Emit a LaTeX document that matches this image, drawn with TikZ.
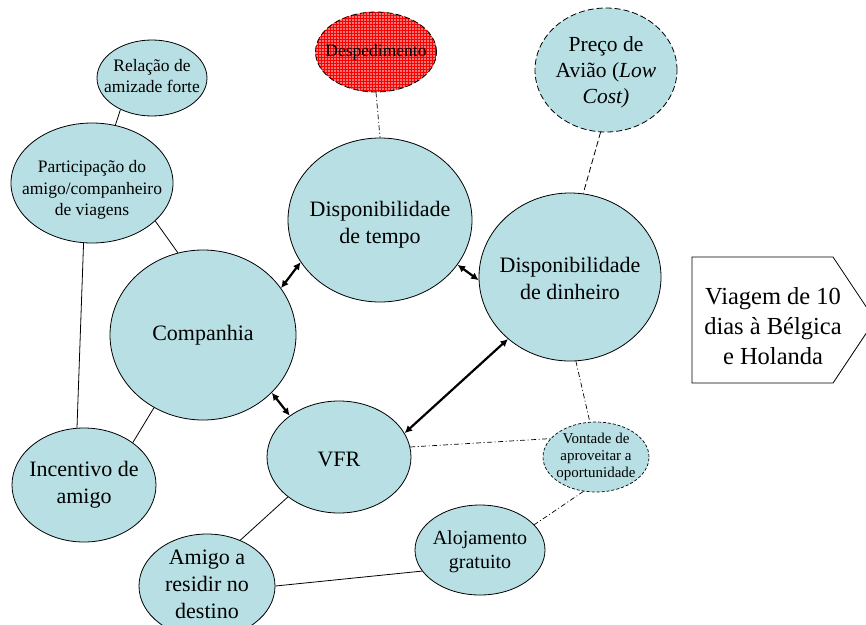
\documentclass[tikz,border=0pt]{standalone}
\usepackage{fontspec}
\setmainfont{Liberation Serif}
\usetikzlibrary{shapes.geometric,arrows.meta,patterns}
\definecolor{azulclaro}{RGB}{184,224,228}
\definecolor{vermelho}{RGB}{242,120,120}
\tikzset{
  bolha/.style={ellipse, draw, fill=azulclaro, inner sep=0pt, line width=0.8pt},
  grande/.style={font=\fontsize{22}{27}\selectfont, align=center},
  pequeno/.style={font=\fontsize{17.5}{21.5}\selectfont, align=center},
  liga/.style={line width=0.8pt},
  seta/.style={line width=2.2pt, {Latex[length=7.5pt,width=7.5pt]}-{Latex[length=7.5pt,width=7.5pt]}},
  pontotraco/.style={line width=0.7pt, dash pattern=on 5pt off 2.5pt on 1pt off 2.5pt},
  tracejado/.style={line width=0.8pt, dash pattern=on 6pt off 3pt}
}
\begin{document}
\begin{tikzpicture}[x=1pt, y=-1pt]
    \useasboundingbox (0,0) rectangle (866,624);

    % bolhas
    \node[bolha, minimum width=110pt, minimum height=76pt,
          label={[pequeno, yshift=2pt]center:{Relação de\\amizade forte}}] (relacao) at (152,78) {};
    \node[bolha, minimum width=162pt, minimum height=120pt,
          label={[pequeno, yshift=-7pt]center:{Participação do\\amigo/companheiro\\de viagens}}] (participacao) at (92,183) {};
    \node[bolha, tracejado, preaction={fill=vermelho}, pattern=grid, pattern color=red,
          minimum width=121pt, minimum height=80pt,
          label={[pequeno]center:{Despedimento}}] (despedimento) at (376,52) {};
    \node[bolha, minimum width=184pt, minimum height=164pt,
          label={[grande, yshift=-5pt]center:{Disponibilidade\\de tempo}}] (tempo) at (380,220) {};
    \node[bolha, tracejado, minimum width=142pt, minimum height=124pt,
          label={[font=\fontsize{21.5}{26}\selectfont, align=center, yshift=-2pt]center:{Preço de\\Avião (\textit{Low}\\\textit{Cost)}}}] (preco) at (606,70) {};
    \node[bolha, minimum width=182pt, minimum height=168pt,
          label={[grande, yshift=-1pt]center:{Disponibilidade\\de dinheiro}}] (dinheiro) at (570,277) {};
    \node[bolha, minimum width=186pt, minimum height=170pt,
          label={[grande]center:{Companhia}}] (companhia) at (203,335) {};
    \node[bolha, minimum width=144pt, minimum height=112pt,
          label={[grande, yshift=-2pt]center:{VFR}}] (vfr) at (339,457) {};
    \node[bolha, line width=0.7pt, dash pattern=on 3pt off 2pt, minimum width=106pt, minimum height=70pt,
          label={[font=\fontsize{15}{17}\selectfont, align=center]center:{Vontade de\\aproveitar a\\oportunidade}}] (vontade) at (596,457) {};
    \node[bolha, minimum width=130pt, minimum height=90pt,
          label={[font=\fontsize{20}{24}\selectfont, align=center, yshift=-2pt]center:{Alojamento\\gratuito}}] (alojamento) at (480,550) {};
    \node[bolha, minimum width=136pt, minimum height=104pt,
          label={[grande, yshift=2pt]center:{Amigo a\\residir no\\destino}}] (amigo) at (207,586) {};
    \node[bolha, minimum width=144pt, minimum height=114pt,
          label={[grande]center:{Incentivo de\\amigo}}] (incentivo) at (84,485) {};

    % objectivo
    \draw[line width=0.8pt] (692,257) -- (833,257) -- (875,320) -- (833,383) -- (692,383) -- cycle;
    \node[font=\fontsize{24.5}{30}\selectfont, align=center] (viagem) at (773,326)
        {Viagem de 10\\dias à Bélgica\\e Holanda};

    % ligacoes
    \draw[liga] (relacao.225) -- (participacao.68);
    \draw[liga] (participacao.-31) -- (companhia.107);
    \draw[liga] (participacao.262) -- (incentivo.97);
    \draw[liga] (companhia.236) -- (incentivo.41);
    \draw[liga] (vfr.218) -- (amigo.54);
    \draw[liga] (amigo.east) -- (alojamento.200);
    \draw[pontotraco] (despedimento.south) -- (tempo.north);
    \draw[tracejado] (preco.265) -- (dinheiro.81);
    \draw[pontotraco] (dinheiro.-86) -- (vontade.100);
    \draw[pontotraco] (vfr.8) -- (vontade.158);
    \draw[pontotraco] (vontade.250) -- (alojamento.25);

    % setas
    \draw[seta] (companhia.31) -- (tempo.208);
    \draw[seta] (tempo.-30) -- (dinheiro.182);
    \draw[seta] (companhia.-40) -- (vfr.140);
    \draw[seta] (vfr.20) -- (dinheiro.225);
\end{tikzpicture}
\end{document}
